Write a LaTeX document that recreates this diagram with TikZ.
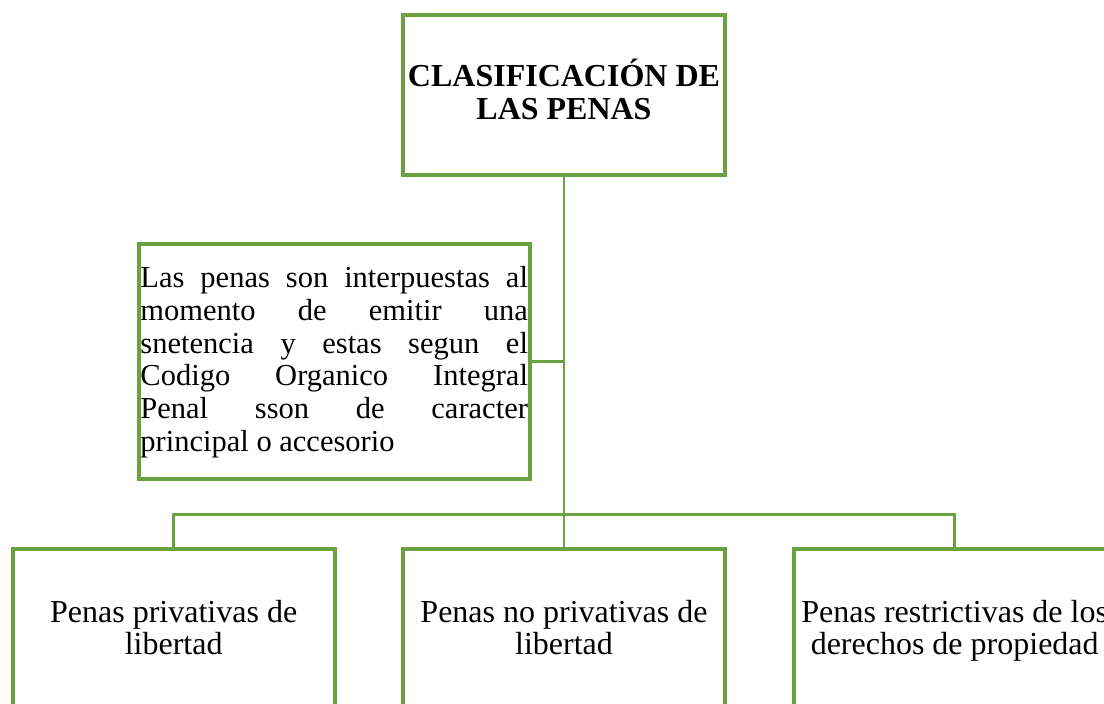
\documentclass[tikz,border=0pt]{standalone}
\usepackage{fontspec}
\setmainfont{Liberation Serif}
\usetikzlibrary{calc}
\definecolor{verde}{RGB}{106,162,66}

\begin{document}
\begin{tikzpicture}[x=1pt,y=-1pt,
  caja/.style={draw=verde,line width=4pt,rectangle,inner sep=0pt,minimum width=322pt,minimum height=160pt},
  rama/.style={color=verde,line width=2.8pt}]
% Frame
\useasboundingbox (0,0) rectangle (1104,704);
% Title box
\node [caja,align=center,text depth=10pt,font=\fontsize{32}{33.3}\selectfont\bfseries] (titulo) at (564,94.6) {CLASIFICACIÓN DE\\LAS PENAS};
% Note box
\node [caja,minimum width=391pt,minimum height=234.4pt,font=\fontsize{30.5}{32.8}\selectfont] (nota) at (334.2,361.5)
  {\parbox[t][234.4pt][t]{387.5pt}{\vspace*{22pt}\tolerance=10000\hbadness=10000
   Las penas son interpuestas al\linebreak momento de emitir una\linebreak snetencia y estas segun el\linebreak Codigo Organico Integral\linebreak Penal sson de caracter\linebreak principal o accesorio}};
% Bottom boxes
\node [caja,align=center,text depth=3pt,font=\fontsize{32}{32.3}\selectfont] (p1) at (173.7,628.7) {Penas privativas de\\libertad};
\node [caja,align=center,text depth=3pt,font=\fontsize{32}{32.3}\selectfont] (p2) at (564,628.7) {Penas no privativas de\\libertad};
\node [caja,align=center,text depth=3pt,font=\fontsize{32}{32.3}\selectfont] (p3) at (954.7,628.7) {Penas restrictivas de los\\derechos de propiedad};
% Trunk
\draw [rama] (titulo.south) -- (p2.north);
% Branch to the note
\draw [rama] (nota.east) -- (nota.east -| titulo.south);
% Bus to the bottom boxes
\coordinate (bus) at (564,514.3);
\draw [rama] (p1.north) |- (bus) -| (p3.north);
\end{tikzpicture}
\end{document}
